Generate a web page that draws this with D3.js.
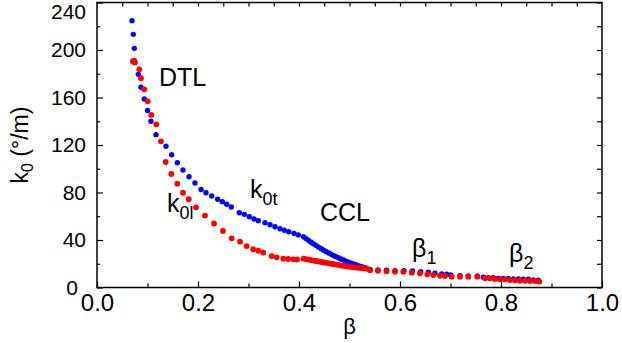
<!DOCTYPE html>
<html><head><meta charset="utf-8">
<script src="https://cdn.jsdelivr.net/npm/d3@7"></script>
<style>
html,body{margin:0;padding:0;background:#fff;}
svg{display:block;font-family:"Liberation Sans",Arial,sans-serif;}
</style></head>
<body><svg id="c" width="622" height="343"></svg>
<script>
// k0t (blue) — DTL section
const dtlTBeta = [0.0693,0.0719,0.0739,0.0818,0.0871,0.0937,0.1000,0.1069,0.1168,0.1366,0.1479,0.1590,0.1703,0.1822,0.1940,0.2060,0.2158,0.2271,0.2390,0.2481,0.2568,0.2659,0.2818,0.2917,0.3016,0.3109,0.3194,0.3327,0.3426,0.3525,0.3624,0.3709,0.3796,0.3901,0.3986];
const dtlTK    = [224.7,213.2,201.4,179.5,168.6,158.7,149.0,140.0,128.7,118.9,111.8,105.1,98.9,93.3,88.0,82.5,79.8,77.1,74.3,72.3,70.1,67.8,63.0,61.6,59.6,57.7,56.3,54.6,52.9,51.2,49.5,48.2,47.0,45.6,44.3];
// k0l (red) — DTL section
const dtlLBeta = [0.0710,0.0733,0.0752,0.0838,0.0871,0.0937,0.1004,0.1075,0.1174,0.1267,0.1360,0.1471,0.1590,0.1703,0.1816,0.1960,0.2139,0.2317,0.2495,0.2667,0.2832,0.2964,0.3095,0.3194,0.3293,0.3459,0.3558,0.3689,0.3788,0.3887,0.3960];
const dtlLK    = [190.5,191.0,189.5,183.7,176.2,166.9,156.8,145.3,137.4,123.1,105.7,95.6,87.4,79.8,74.3,67.5,60.6,53.9,47.6,41.4,38.6,34.9,32.2,31.0,29.3,26.5,25.4,24.3,24.0,23.7,23.6];
// CCL section (dense)
const cclBeta  = [0.409,0.414,0.419,0.424,0.429,0.434,0.439,0.444,0.449,0.454,0.459,0.464,0.469,0.474,0.479,0.484,0.489,0.494,0.499,0.504,0.509,0.514,0.519,0.524,0.529,0.533];
const cclTK    = [42.8,41.2,39.6,38.1,36.7,35.3,34.0,32.7,31.4,30.2,29.0,27.9,26.8,25.8,24.8,23.8,22.9,22.0,21.2,20.4,19.6,18.9,18.2,17.5,16.8,16.2];
const cclLK    = [24.3,23.9,23.5,23.1,22.7,22.3,21.9,21.5,21.1,20.8,20.4,20.0,19.6,19.3,18.9,18.5,18.2,17.9,17.6,17.3,17.0,16.8,16.6,16.4,16.2,16.0];
// beta1 / beta2 sections
const hiTBeta  = [0.5406,0.5564,0.5733,0.5901,0.6079,0.6244,0.6410,0.6560,0.6693,0.6826,0.6925,0.7004,0.7188,0.7352,0.7531,0.7650,0.7749,0.7848,0.7947,0.8046,0.8145,0.8244,0.8343,0.8442,0.8541,0.8640,0.8739];
const hiTK     = [15.2,14.7,14.5,14.1,14.1,13.9,13.3,12.8,12.0,11.4,11.1,10.5,9.9,9.7,9.7,8.6,8.3,8.3,7.7,7.7,7.7,7.2,7.2,6.9,6.9,6.3,6.1];
const hiLBeta  = [0.5406,0.5564,0.5733,0.5901,0.6065,0.6232,0.6396,0.6541,0.6659,0.6792,0.6891,0.7024,0.7188,0.7352,0.7531,0.7683,0.7782,0.7881,0.7980,0.8079,0.8178,0.8277,0.8376,0.8475,0.8574,0.8673,0.8758];
const hiLK     = [14.6,14.1,13.7,13.3,13.3,12.5,12.0,11.1,10.5,9.9,9.7,9.1,9.1,9.1,9.1,7.7,7.7,7.2,6.9,6.9,6.3,6.1,5.7,5.7,5.5,5.5,4.9];

const xTicks = [0.0,0.2,0.4,0.6,0.8,1.0];
const xMinor = [0.1,0.3,0.5,0.7,0.9];
const xTop   = [0.05,0.1,0.15,0.2,0.25,0.3,0.35,0.4,0.45,0.5,0.55,0.6,0.65,0.7,0.75,0.8,0.85,0.9,0.95];
const yTicks = [0,40,80,120,160,200,240];
const yMinor = [20,60,100,140,180,220];

const svg = d3.select("#c");
const L=97,R=602,T=2.5,B=287.5;
const x = d3.scaleLinear().domain([0,1]).range([L,R]);
const y = d3.scaleLinear().domain([0,240]).range([B,T]);

const pts = (bs,ks)=>bs.map((b,i)=>({b,k:ks[i]}));
const blue = [...pts(dtlTBeta,dtlTK),...pts(cclBeta,cclTK),...pts(hiTBeta,hiTK)];
const red  = [...pts(dtlLBeta,dtlLK),...pts(cclBeta,cclLK),...pts(hiLBeta,hiLK)];

svg.append("g").selectAll("circle").data(blue).join("circle")
  .attr("cx",d=>x(d.b)).attr("cy",d=>y(d.k)).attr("r",2.7).attr("fill","#0000ff");
svg.append("g").selectAll("circle").data(red).join("circle")
  .attr("cx",d=>x(d.b)).attr("cy",d=>y(d.k)).attr("r",2.9).attr("fill","#ff0000");

// axes
const fmt = d3.format(".1f");
const ax = svg.append("g").attr("transform",`translate(0,${B})`)
  .call(d3.axisBottom(x).tickValues(xTicks).tickFormat(fmt).tickSizeInner(-6).tickSizeOuter(0).tickPadding(6));
const axm = svg.append("g").attr("transform",`translate(0,${B})`)
  .call(d3.axisBottom(x).tickValues(xMinor).tickFormat("").tickSizeInner(-4).tickSizeOuter(0));
const axt = svg.append("g").attr("transform",`translate(0,${T})`)
  .call(d3.axisTop(x).tickValues(xTop).tickFormat("").tickSizeInner(-4).tickSizeOuter(0));
const ay = svg.append("g").attr("transform",`translate(${L},0)`)
  .call(d3.axisLeft(y).tickValues(yTicks).tickSizeInner(-6).tickSizeOuter(0).tickPadding(11));
const aym = svg.append("g").attr("transform",`translate(${L},0)`)
  .call(d3.axisLeft(y).tickValues(yMinor).tickFormat("").tickSizeInner(-3).tickSizeOuter(0));
const ayr = svg.append("g").attr("transform",`translate(${R},0)`)
  .call(d3.axisRight(y).tickValues([...yTicks,...yMinor]).tickFormat("").tickSizeInner(-5).tickSizeOuter(0));
[ax,axm,axt,ay,aym,ayr].forEach(g=>{
  g.select(".domain").remove();
  g.selectAll("line").attr("stroke","#000").attr("stroke-width",1.2);
  g.selectAll("text").attr("fill","#000").attr("font-family","Liberation Sans, Arial, sans-serif");
});
ax.selectAll("text").attr("font-size",24);
ay.selectAll("text").attr("font-size",21);
// keep the top label inside the picture
ay.selectAll(".tick").filter(d=>d===240).select("text").attr("dy","16px");
// nudge the "0" label left so it clears the "0.0" label
ay.selectAll(".tick").filter(d=>d===0).select("text").attr("dx","-8px");

svg.append("rect").attr("x",L).attr("y",T).attr("width",R-L).attr("height",B-T)
  .attr("fill","none").attr("stroke","#000").attr("stroke-width",1.5);

// axis titles
svg.append("text").attr("x",x(0.5)).attr("y",334).attr("text-anchor","middle")
  .attr("font-size",22).text("β");
const yl = svg.append("text").attr("transform",`translate(28,${(T+B)/2}) rotate(-90)`)
  .attr("text-anchor","middle").attr("font-size",23);
yl.append("tspan").text("k");
yl.append("tspan").attr("font-size",16).attr("dy",5).text("0");
yl.append("tspan").attr("dy",-5).text(" (°/m)");

// annotations
const ann = (tx,ty,main,sub)=>{
  const t = svg.append("text").attr("x",tx).attr("y",ty).attr("font-size",25);
  t.append("tspan").text(main);
  if(sub) t.append("tspan").attr("font-size",18).attr("dy",7).text(sub);
};
ann(159,86,"DTL");
ann(250,198,"k","0t");
ann(167,212,"k","0l");
ann(320,221,"CCL");
ann(412,257,"β","1");
ann(509,262,"β","2");
</script></body></html>
